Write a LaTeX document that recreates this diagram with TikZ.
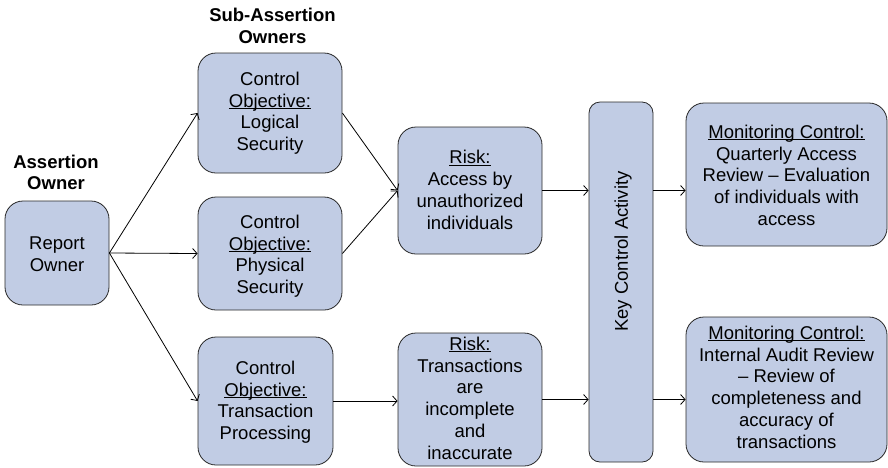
\documentclass[tikz,border=0pt]{standalone}
\usepackage{fontspec}
\setmainfont{Liberation Sans}
\usetikzlibrary{arrows.meta}
\definecolor{boxfill}{RGB}{193,204,228}
\definecolor{boxline}{RGB}{40,40,40}
% underline set just below the baseline, ignoring descenders
\newcommand{\ulbl}[1]{{\setbox0\hbox{#1}\dp0=0pt\underline{\box0}}}
% fixed height for the first line, so each text block hangs from a known top
\newcommand{\tallrule}{\rule{0pt}{15pt}}
\begin{document}
\begin{tikzpicture}[x=1pt,y=-1pt,
  box/.style={draw=boxline, fill=boxfill, line width=0.8pt, rounded corners=18pt,
    inner sep=0pt},
  txt/.style={anchor=north, align=center, inner sep=0pt,
    font=\fontsize{18.5}{21.8}\selectfont},
  head/.style={txt, font=\bfseries\fontsize{18.5}{21.5}\selectfont},
  link/.style={line width=0.8pt, -{Straight Barb[length=4.5pt,width=10pt]}}]
\useasboundingbox (0,0) rectangle (888,467);

% column headings (first baseline 15pt below the anchor)
\node[head] (hsub) at (272.5,6.7) {\tallrule Sub-Assertion\\Owners};
\node[head] (hown) at (56,153) {\tallrule Assertion\\Owner};

% boxes
\node[box, minimum width=104pt, minimum height=104pt] (ro)    at (57,253) {};
\node[box, minimum width=144pt, minimum height=120pt] (log)   at (270,113) {};
\node[box, minimum width=144pt, minimum height=113pt] (phy)   at (270,253.5) {};
\node[box, minimum width=135pt, minimum height=128pt] (trp)   at (265.5,401) {};
\node[box, minimum width=144pt, minimum height=127pt] (riska) at (470,190.5) {};
\node[box, minimum width=144pt, minimum height=133pt] (riskt) at (470,399.5) {};
\node[box, rounded corners=11pt, minimum width=64pt, minimum height=360pt] (kca) at (621,282) {};
\node[box, minimum width=201pt, minimum height=143pt] (mon1)  at (786.5,174.5) {};
\node[box, minimum width=201pt, minimum height=145pt] (mon2)  at (786.5,389.5) {};

% box texts
\node[txt] (rot) at (57,234) {\tallrule Report\\Owner};
\node[txt] (logt) at (270,70) {\tallrule Control\\\ulbl{Objective:}\\Logical\\Security};
\node[txt] (phyt) at (270,213) {\tallrule Control\\\ulbl{Objective:}\\Physical\\Security};
\node[txt] (trpt) at (265.5,359) {\tallrule Control\\\ulbl{Objective:}\\Transaction\\Processing};
\node[txt] (riskat) at (470,148.5) {\tallrule\ulbl{Risk:}\\Access by\\unauthorized\\individuals};
\node[txt] (risktt) at (470,335) {\tallrule\ulbl{Risk:}\\Transactions\\are\\incomplete\\and\\inaccurate};
\node[rotate=90, font=\fontsize{18.5}{22}\selectfont] (kcat) at (623,251.5) {Key Control Activity};
\node[txt] (mon1t) at (786.5,123) {\tallrule\ulbl{Monitoring Control:}\\Quarterly Access\\Review -- Evaluation\\of individuals with\\access};
\node[txt] (mon2t) at (786.5,324) {\tallrule\ulbl{Monitoring Control:}\\Internal Audit Review\\-- Review of\\completeness and\\accuracy of\\transactions};

% connectors
\draw[link] (ro.east) -- (log.west);
\draw[link] (ro.east) -- (phy.west);
\draw[link] (ro.east) -- (trp.west);
\draw[link] (log.east) -- (riska.west);
\draw[link] (phy.east) -- (riska.west);
\draw[link] (trp.east) -- (riskt.west |- trp.east);
\draw[link] (riska.east) -- (riska.east -| kca.west);
\draw[link] (riskt.east) -- (riskt.east -| kca.west);
\draw[link] (kca.east |- riska.east) -- (mon1.west |- riska.east);
\draw[link] (kca.east |- riskt.east) -- (mon2.west |- riskt.east);
\end{tikzpicture}
\end{document}
